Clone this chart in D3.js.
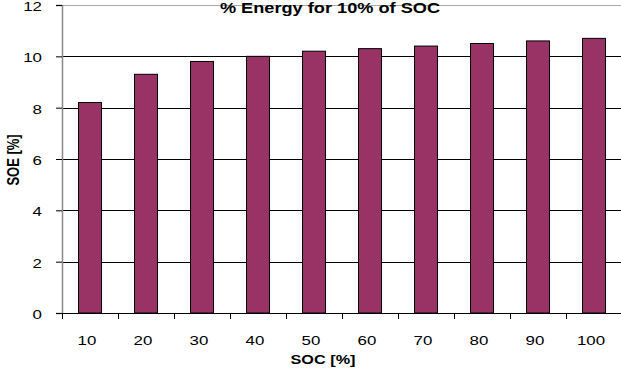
<!DOCTYPE html>
<html><head><meta charset="utf-8">
<script src="https://cdn.jsdelivr.net/npm/d3@7"></script>
<style>
body{margin:0;background:#fff;}
text{font-family:"Liberation Sans",Arial,sans-serif;fill:#000;}
</style></head><body>
<svg id="c" width="621" height="376"></svg>
<script>
const categories = ["10","20","30","40","50","60","70","80","90","100"];
const values = [8.2, 9.3, 9.8, 10.0, 10.2, 10.3, 10.4, 10.5, 10.6, 10.7];
const yTicks = [0, 2, 4, 6, 8, 10, 12];
const title = "% Energy for 10% of SOC";
const xTitle = "SOC [%]";
const yTitle = "SOE [%]";

const SX = 1.3; // horizontal stretch of text in the reference
const svg = d3.select("#c");
const m = {l:62, r:622, t:5, b:313};
const x = d3.scaleBand().domain(categories).range([m.l, m.r]).paddingInner(0.59).paddingOuter(0.295);
const xb = d3.scaleBand().domain(categories).range([m.l, m.r]);
const y = d3.scaleLinear().domain([0, 12]).range([m.b, m.t]);

// plot border top
svg.append("line").attr("x1", m.l).attr("x2", m.r).attr("y1", y(12)+0.5).attr("y2", y(12)+0.5)
  .attr("stroke", "#aaa").attr("stroke-width", 1);
// gridlines
svg.append("g").selectAll("line").data(yTicks.filter(d => d > 0 && d < 12)).join("line")
  .attr("x1", m.l).attr("x2", m.r)
  .attr("y1", d => Math.round(y(d))+0.5).attr("y2", d => Math.round(y(d))+0.5)
  .attr("stroke", "#000").attr("stroke-width", 1);

// bars
svg.append("g").selectAll("rect").data(values).join("rect")
  .attr("x", (d, i) => x(categories[i]))
  .attr("y", d => y(d))
  .attr("width", x.bandwidth())
  .attr("height", d => y(0) - y(d))
  .attr("fill", "#993366").attr("stroke", "#000").attr("stroke-width", 1);

// y axis
const ya = svg.append("g").attr("transform", `translate(${m.l},0)`)
  .call(d3.axisLeft(y).tickValues(yTicks).tickSize(6).tickFormat(""));
ya.select(".domain").attr("stroke", "#888").attr("stroke-width", 1.5);
ya.selectAll(".tick line").attr("stroke", "#000");
svg.append("g").selectAll("text").data(yTicks).join("text")
  .attr("transform", d => `translate(42,${y(d) + 1.3}) scale(${SX},1)`)
  .attr("text-anchor", "end").attr("dy", "0.36em").attr("font-size", 13)
  .text(d3.format("d"));

// x axis
svg.append("line").attr("x1", m.l).attr("x2", m.r).attr("y1", m.b+0.5).attr("y2", m.b+0.5).attr("stroke", "#000");
svg.append("g").selectAll("line").data(categories).join("line")
  .attr("x1", d => Math.round(xb(d))+0.5).attr("x2", d => Math.round(xb(d))+0.5)
  .attr("y1", m.b).attr("y2", m.b+6).attr("stroke", "#000");
svg.append("g").selectAll("text").data(categories).join("text")
  .attr("transform", d => `translate(${xb(d) + xb.bandwidth()/2 - 3},345) scale(${SX},1)`)
  .attr("text-anchor", "middle").attr("font-size", 13)
  .text(d => d);

// titles
svg.append("text").attr("transform", `translate(330,13) scale(${SX},1)`).attr("text-anchor", "middle")
  .attr("font-size", 14).attr("font-weight", "bold").text(title);
svg.append("text").attr("transform", `translate(323,364) scale(${SX},1)`).attr("text-anchor", "middle")
  .attr("font-size", 12.5).attr("font-weight", "bold").text(xTitle);
svg.append("text").attr("transform", `translate(19,160) scale(${SX},1) rotate(-90)`).attr("text-anchor", "middle")
  .attr("font-size", 13).attr("font-weight", "bold").text(yTitle);
</script></body></html>
